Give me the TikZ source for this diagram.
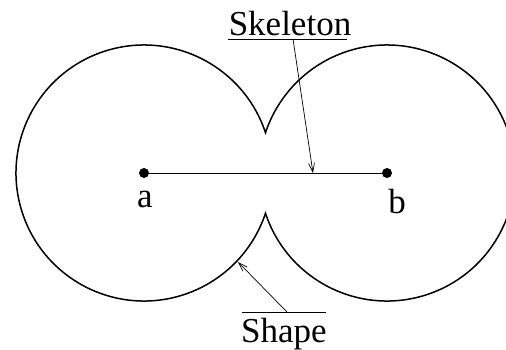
\documentclass[tikz,border=0pt]{standalone}
\usepackage{fontspec}
\setmainfont{Liberation Serif}
\usetikzlibrary{arrows.meta,calc}
\begin{document}
\begin{tikzpicture}[x=1pt,y=-1pt,
  outline/.style={line width=1.5pt},
  skel/.style={line width=1pt},
  pointer/.style={line width=0.7pt,-{Straight Barb[length=9pt,width=6pt]}},
  rule/.style={line width=0.7pt},
  lbl/.style={font=\fontsize{35}{40}\selectfont,inner sep=0pt,anchor=base},
  dot/.style={circle,fill=black,inner sep=0pt,minimum size=10pt}]
\useasboundingbox (0,0) rectangle (506,349);
\clip (0,0) rectangle (506,349);
\coordinate (ca) at (144,173);
\coordinate (cb) at (387,173);
% outline of the shape
\draw[outline] ($(ca)+(18.35:128 and -128)$)
  arc[start angle=-18.35, end angle=-341.65, radius=128]
  arc[start angle=-198.35, end angle=-521.65, radius=128] -- cycle;
% skeleton
\node[dot] (a) at (ca) {};
\node[dot] (b) at (cb) {};
\draw[skel] (a.center) -- (b.center);
\node[lbl] (la) at (145,207) {a};
\node[lbl] (lb) at (397,213) {b};
% labels
\node[lbl] (skl) at (290,35) {Skeleton};
\coordinate (skl1) at (228,39);
\coordinate (skl2) at (347,39);
\draw[rule] (skl1) -- (skl2);
\coordinate (skfrom) at (293,39);
\coordinate (skto) at (313,173);
\draw[pointer] (skfrom) -- (skto);
\node[lbl] (shp) at (284,342) {Shape};
\coordinate (shp1) at (242,312);
\coordinate (shp2) at (326,312);
\draw[rule] (shp1) -- (shp2);
\coordinate (shfrom) at (287,312);
\coordinate (shto) at (238,262);
\draw[pointer] (shfrom) -- (shto);
\end{tikzpicture}
\end{document}
